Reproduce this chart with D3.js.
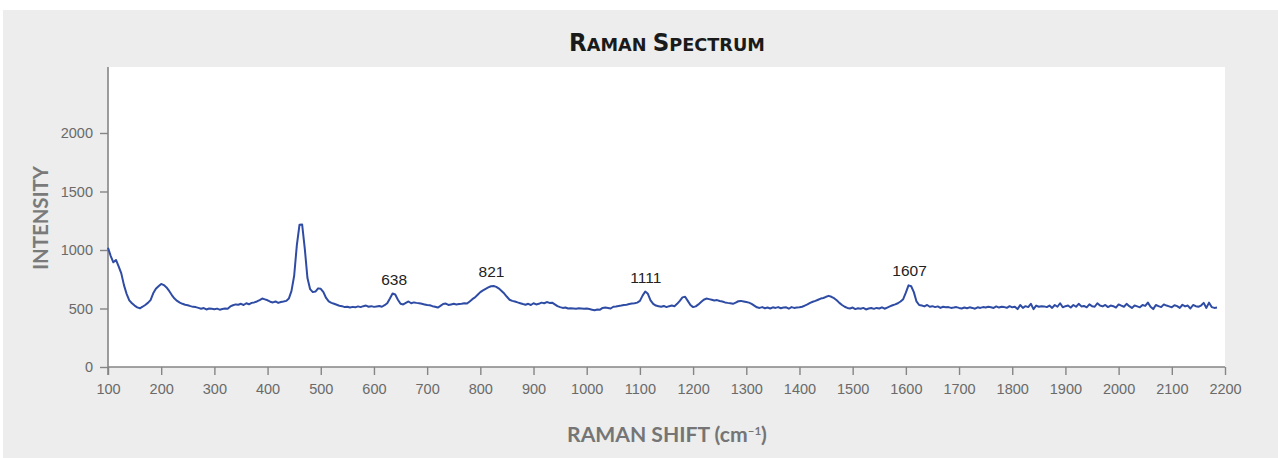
<!DOCTYPE html>
<html>
<head>
<meta charset="utf-8">
<script src="https://cdn.jsdelivr.net/npm/d3@7"></script>
<style>
  html, body { margin: 0; padding: 0; background: #ffffff; }
  svg { display: block; }
</style>
</head>
<body>
<svg id="chart" width="1278" height="458"></svg>
<script>
// Raman shift sampling grid (cm-1)
const shiftStart = 100;
const shiftStep = 5;

// Measured intensity, one value per sample, 100 cm-1 per row
const intensity = [
  1019, 950, 895, 915, 860, 800, 700, 625, 570, 545, 525, 510, 502, 515, 530, 548, 572, 630, 668, 690,
  710, 700, 680, 650, 615, 585, 565, 550, 540, 532, 528, 520, 514, 512, 505, 498, 504, 492, 500, 497,
  494, 499, 490, 496, 500, 498, 518, 528, 535, 532, 540, 530, 545, 536, 548, 552, 560, 572, 585, 578,
  570, 558, 552, 560, 548, 556, 560, 565, 585, 650, 780, 1040, 1215, 1218, 1010, 760, 665, 640, 645, 672,
  668, 640, 590, 560, 548, 540, 532, 524, 520, 512, 515, 508, 514, 510, 518, 512, 520, 525, 515, 520,
  514, 518, 522, 515, 528, 545, 585, 628, 620, 575, 540, 535, 548, 560, 545, 552, 548, 545, 540, 535,
  530, 528, 520, 515, 508, 522, 538, 542, 530, 535, 540, 534, 538, 540, 545, 542, 560, 580, 595, 618,
  640, 655, 668, 680, 690, 692, 685, 670, 650, 628, 600, 575, 565, 560, 552, 545, 538, 532, 540, 530,
  545, 535, 540, 550, 545, 555, 548, 550, 535, 520, 512, 505, 508, 500, 502, 500, 498, 502, 500, 498,
  500, 495, 490, 485, 492, 490, 505, 508, 505, 500, 515, 518, 522, 525, 530, 532, 538, 542, 545, 550,
  565, 610, 645, 625, 570, 540, 525, 520, 515, 522, 512, 520, 525, 520, 540, 565, 595, 600, 565, 530,
  512, 518, 535, 555, 575, 585, 580, 575, 568, 572, 564, 560, 552, 548, 545, 540, 550, 562, 565, 560,
  555, 550, 540, 525, 510, 505, 512, 502, 508, 500, 510, 505, 512, 502, 508, 510, 498, 512, 505, 508,
  510, 515, 525, 535, 548, 558, 565, 575, 585, 590, 600, 608, 600, 588, 570, 548, 530, 515, 505, 500,
  508, 495, 502, 498, 505, 492, 500, 504, 497, 505, 500, 510, 498, 508, 518, 528, 535, 545, 560, 580,
  635, 698, 690, 640, 560, 530, 525, 518, 530, 515, 520, 512, 518, 505, 515, 510, 512, 505, 508, 512,
  505, 500, 508, 502, 510, 505, 498, 510, 505, 512, 508, 515, 510, 505, 518, 508, 515, 512, 506, 520,
  510, 515, 495, 530, 505, 520, 512, 540, 495, 525, 515, 520, 518, 512, 525, 505, 530, 515, 545, 510,
  520, 525, 508, 530, 515, 540, 518, 522, 510, 535, 520, 515, 545, 525, 518, 530, 512, 525, 520, 508,
  535, 525, 515, 540, 520, 505, 525, 518, 510, 530, 522, 550, 515, 495, 530, 520, 512, 535, 525, 518,
  510, 528, 520, 505, 532, 518, 525, 500, 530, 520, 515, 525, 548, 505, 550, 512, 505, 508
];

// Annotated band positions (cm-1)
const peakLabels = [638, 821, 1111, 1607];

// Axis ticks
const xTicks = d3.range(100, 2201, 100);
const yTicks = [0, 500, 1000, 1500, 2000];

const data = intensity.map((v, i) => ({ shift: shiftStart + i * shiftStep, value: v }));

const svg = d3.select("#chart");
const W = 1278, H = 458;
const plot = { left: 108, right: 1225, top: 67, bottom: 367 };

// Panel background
svg.append("rect").attr("x", 3).attr("y", 10).attr("width", W - 3).attr("height", H - 10)
  .attr("fill", "#ecedec");
svg.append("rect").attr("x", plot.left).attr("y", plot.top)
  .attr("width", plot.right - plot.left).attr("height", plot.bottom - plot.top)
  .attr("fill", "#ffffff");

const x = d3.scaleLinear().domain([100, 2200]).range([plot.left, plot.right]);
const y = d3.scaleLinear().domain([0, 2564]).range([plot.bottom, plot.top]);

const axisColor = "#858585";
const tickText = "#6a6a6a";
const tickFont = "'Liberation Sans', Arial, Helvetica, sans-serif";

// X axis
const gx = svg.append("g").attr("transform", `translate(0,${plot.bottom})`)
  .call(d3.axisBottom(x).tickValues(xTicks).tickFormat(d3.format("d")).tickSize(8).tickPadding(9));
// Y axis
const gy = svg.append("g").attr("transform", `translate(${plot.left},0)`)
  .call(d3.axisLeft(y).tickValues(yTicks).tickFormat(d3.format("d")).tickSize(8).tickPadding(7));

[gx, gy].forEach(g => {
  g.select(".domain").attr("stroke", axisColor).attr("stroke-width", 1.6);
  g.selectAll(".tick line").attr("stroke", axisColor).attr("stroke-width", 1.4);
  g.selectAll(".tick text").attr("fill", tickText)
    .style("font-family", tickFont).style("font-size", "14.5px");
});
// y axis line runs down to the x-axis tick length
gy.select(".domain").attr("d", `M0,${plot.top}V${plot.bottom + 8}`);
gx.select(".domain").attr("d", `M${plot.left},0H${plot.right}`);

// Spectrum
const line = d3.line().x(d => x(d.shift)).y(d => y(d.value));
svg.append("path").datum(data)
  .attr("d", line)
  .attr("fill", "none")
  .attr("stroke", "#2f4ca5")
  .attr("stroke-width", 2)
  .attr("stroke-linejoin", "round");

// Band labels above local maxima
peakLabels.forEach(p => {
  const near = data.filter(d => Math.abs(d.shift - p) <= 10);
  const top = d3.max(near, d => d.value);
  svg.append("text")
    .attr("x", x(p)).attr("y", y(top) - 9)
    .attr("text-anchor", "middle")
    .attr("fill", "#222222")
    .style("font-family", tickFont).style("font-size", "15.5px")
    .text(p);
});

// Fit a text element horizontally to a given width around its centre
function fitWidth(sel, cx, cy, width, rotate) {
  const w = sel.node().getBBox().width;
  const s = width / w;
  sel.attr("transform", `translate(${cx},${cy}) rotate(${rotate || 0}) scale(${s},1)`);
}

// Title in small capitals, condensed
const title = svg.append("text").attr("text-anchor", "middle")
  .attr("fill", "#1a1a1a")
  .style("font-family", "'Liberation Sans Narrow', 'DejaVu Sans Condensed', 'Liberation Sans', sans-serif")
  .style("font-weight", "bold");
[["R", 24], ["AMAN ", 18.5], ["S", 24], ["PECTRUM", 18.5]].forEach(([t, s]) => {
  title.append("tspan").style("font-size", s + "px").text(t);
});
fitWidth(title, 667, 51, 196);

// Axis titles
const axisTitleFont = "Lato, 'Open Sans', 'DejaVu Sans', sans-serif";
const yTitle = svg.append("text").attr("text-anchor", "middle")
  .attr("fill", "#7a7a7a")
  .style("font-family", axisTitleFont).style("font-weight", "bold").style("font-size", "20px")
  .text("INTENSITY");
fitWidth(yTitle, 48, 218, 105, -90);

const xTitle = svg.append("text").attr("text-anchor", "middle")
  .attr("fill", "#757575")
  .style("font-family", axisTitleFont).style("font-weight", "bold").style("font-size", "20px");
xTitle.append("tspan").text("RAMAN SHIFT (cm");
xTitle.append("tspan").attr("dy", -7).style("font-size", "11px").text("–1");
xTitle.append("tspan").attr("dy", 7).text(")");
fitWidth(xTitle, 667, 442, 200);
</script>
</body>
</html>
